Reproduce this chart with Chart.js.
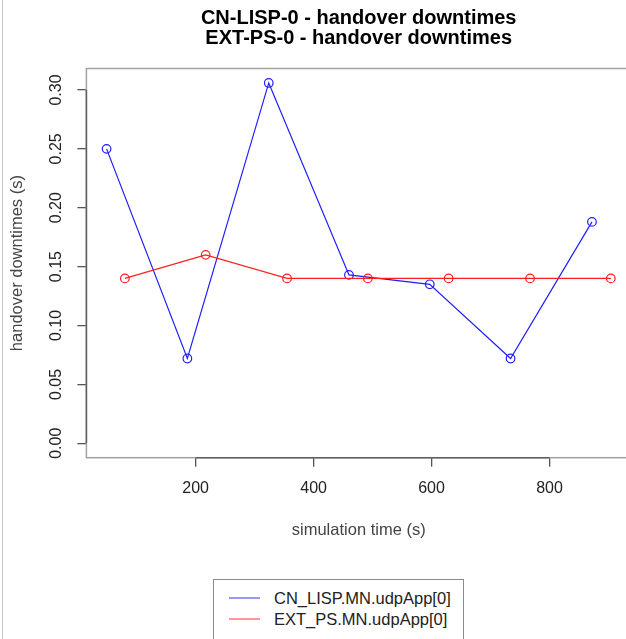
<!DOCTYPE html>
<html>
<head>
<meta charset="utf-8">
<title>handover downtimes</title>
<script src="https://cdn.jsdelivr.net/npm/chart.js@4.4.1/dist/chart.umd.min.js"></script>
<style>
  html, body { margin: 0; padding: 0; overflow: hidden; background: #fff; }
  #wrap { position: relative; width: 626px; height: 639px; overflow: hidden; }
  #edge { position: absolute; left: 2px; top: 0; width: 1px; height: 639px; background: #c8c8c8; }
  #chart { position: absolute; left: 0; top: 0; }
  #legend {
    position: absolute; left: 213px; top: 579px; width: 249px; height: 80px;
    border: 1px solid #8a8a8a; background: #fff;
    font: 16.5px "Liberation Sans", Arial, Helvetica, sans-serif; color: #222;
  }
  .row { position: absolute; left: 0; height: 20px; line-height: 20px; white-space: nowrap; }
  .row canvas { position: absolute; left: 15px; top: 8px; }
  .row span { position: absolute; left: 60px; top: 0; }
</style>
</head>
<body>
<div id="wrap">
  <div id="edge"></div>
  <canvas id="chart" width="640" height="639" style="width:640px;height:639px"></canvas>
  <div id="legend"></div>
</div>
<script>
const lispTimes = [49, 186, 324, 460, 597, 734, 872];
const lispDowntimes = [0.250, 0.072, 0.306, 0.143, 0.135, 0.072, 0.188];
const psTimes = [80, 217, 355, 492, 629, 767, 904];
const psDowntimes = [0.140, 0.160, 0.140, 0.140, 0.140, 0.140, 0.140];

const seriesNames = ["CN_LISP.MN.udpApp[0]", "EXT_PS.MN.udpApp[0]"];
const seriesColors = ["rgb(30, 30, 255)", "rgb(255, 30, 30)"];
const titleLines = ["CN-LISP-0 - handover downtimes", "EXT-PS-0 - handover downtimes"];
const xTicks = [200, 400, 600, 800];
const yTicks = [0, 0.05, 0.10, 0.15, 0.20, 0.25, 0.30];

const FONT = '"Liberation Sans", Arial, Helvetica, sans-serif';

// R-style axis limits: data range padded by 4% on each side (y includes 0)
function padRange(lo, hi) {
  const d = (hi - lo) * 0.04;
  return [lo - d, hi + d];
}
const [xMin, xMax] = padRange(
  Math.min(...lispTimes, ...psTimes),
  Math.max(...lispTimes, ...psTimes)
);
const [yMin, yMax] = padRange(0, Math.max(...lispDowntimes, ...psDowntimes));

function toPoints(xs, ys) {
  return xs.map((x, i) => ({ x: x, y: ys[i] }));
}

// box around the plot plus axis lines that only span the ticks
const plotFrame = {
  id: "plotFrame",
  beforeDatasetsDraw(chart) {
    const { ctx, chartArea: a, scales } = chart;
    const xs = scales.x.ticks;
    const ys = scales.y.ticks;
    ctx.save();
    ctx.lineWidth = 1.5;
    ctx.strokeStyle = "#a2a2a2";
    ctx.strokeRect(a.left, a.top, a.right - a.left, a.bottom - a.top);
    ctx.strokeStyle = "#606060";
    ctx.beginPath();
    ctx.moveTo(scales.x.getPixelForValue(xs[0].value), a.bottom);
    ctx.lineTo(scales.x.getPixelForValue(xs[xs.length - 1].value), a.bottom);
    ctx.moveTo(a.left, scales.y.getPixelForValue(ys[0].value));
    ctx.lineTo(a.left, scales.y.getPixelForValue(ys[ys.length - 1].value));
    ctx.stroke();
    ctx.restore();
  },
};

function makeDataset(i, xs, ys, order) {
  return {
    label: seriesNames[i],
    data: toPoints(xs, ys),
    borderColor: seriesColors[i],
    borderWidth: 1.2,
    tension: 0,
    pointStyle: "circle",
    pointRadius: 4.3,
    pointBorderWidth: 1.2,
    pointBorderColor: seriesColors[i],
    pointBackgroundColor: "rgba(0,0,0,0)",
    order: order,
  };
}

const ctx = document.getElementById("chart").getContext("2d");
const chart = new Chart(ctx, {
  type: "line",
  data: {
    datasets: [
      makeDataset(0, lispTimes, lispDowntimes, 1),
      makeDataset(1, psTimes, psDowntimes, 0),
    ],
  },
  options: {
    responsive: false,
    animation: false,
    layout: { padding: { top: 0, left: 0, right: 9, bottom: 0 } },
    plugins: {
      legend: { display: false },
      tooltip: { enabled: false },
      title: {
        display: true,
        text: titleLines,
        fullSize: false,
        color: "#000",
        font: { family: FONT, size: 20, weight: "bold", lineHeight: 1.0 },
        padding: { top: 8.5, bottom: 20 },
      },
    },
    scales: {
      x: {
        type: "linear",
        min: xMin,
        max: xMax,
        afterBuildTicks: (scale) => {
          scale.ticks = xTicks.map((v) => ({ value: v }));
        },
        afterFit: (scale) => {
          scale.height = 181.3;
        },
        border: { display: false },
        grid: { drawOnChartArea: false, tickLength: 9, color: "#555", lineWidth: 1.3 },
        ticks: {
          autoSkip: false,
          maxRotation: 0,
          padding: 12.7,
          color: "#222",
          font: { family: FONT, size: 16 },
          callback: (v) => String(v),
        },
        title: {
          display: true,
          text: "simulation time (s)",
          color: "#444",
          font: { family: FONT, size: 16.5 },
          padding: { top: 0, bottom: 99 },
        },
      },
      y: {
        type: "linear",
        min: yMin,
        max: yMax,
        afterBuildTicks: (scale) => {
          scale.ticks = yTicks.map((v) => ({ value: v }));
        },
        afterFit: (scale) => {
          scale.width = 86.4;
        },
        border: { display: false },
        grid: { drawOnChartArea: false, tickLength: 9, color: "#555", lineWidth: 1.3 },
        ticks: {
          autoSkip: false,
          minRotation: 90,
          maxRotation: 90,
          crossAlign: "center",
          padding: 5,
          color: "#222",
          font: { family: FONT, size: 16 },
          callback: (v) => v.toFixed(2),
        },
        title: {
          display: true,
          text: "handover downtimes (s)",
          color: "#444",
          font: { family: FONT, size: 16.5 },
          padding: { top: 7.6, bottom: 0 },
        },
      },
    },
  },
  plugins: [plotFrame],
});

// legend box below the plot, one row per dataset, each with a short line sample
const legendEl = document.getElementById("legend");
chart.data.datasets.forEach((ds, i) => {
  const row = document.createElement("div");
  row.className = "row";
  row.style.top = (8 + i * 21) + "px";
  row.style.width = "100%";
  const sample = document.createElement("canvas");
  sample.width = 32;
  sample.height = 4;
  const sctx = sample.getContext("2d");
  sctx.strokeStyle = ds.borderColor;
  sctx.globalAlpha = 0.7;
  sctx.lineWidth = 1.3;
  sctx.beginPath();
  sctx.moveTo(0, 2);
  sctx.lineTo(31, 2);
  sctx.stroke();
  const text = document.createElement("span");
  text.textContent = ds.label;
  row.appendChild(sample);
  row.appendChild(text);
  legendEl.appendChild(row);
});
</script>
</body>
</html>
